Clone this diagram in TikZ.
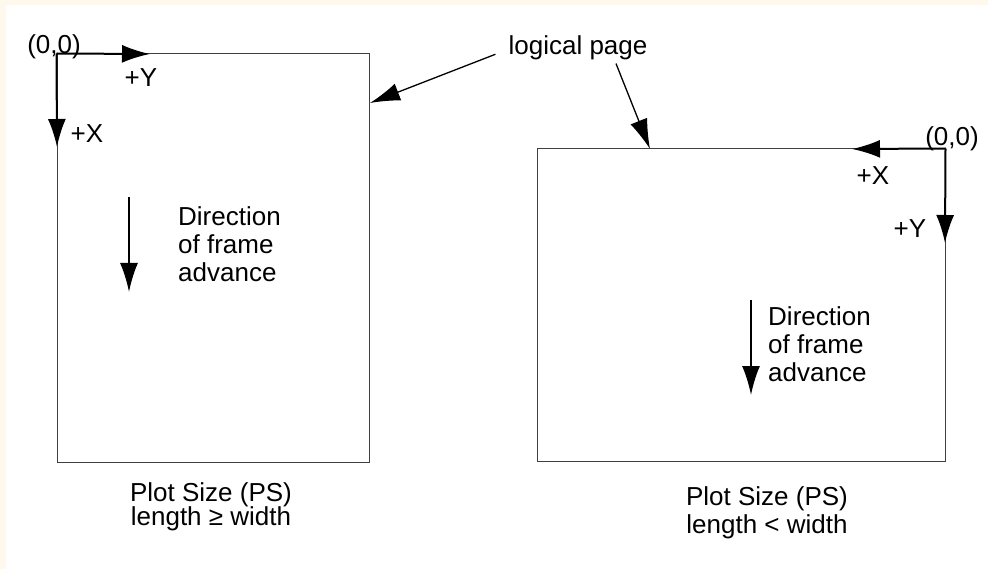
\documentclass[tikz,border=0pt]{standalone}
\usepackage{fontspec}
\setmainfont{Liberation Sans}
\usetikzlibrary{arrows.meta}
\definecolor{paper}{RGB}{255,248,236}
\tikzset{
  pagebox/.style={
    rectangle,
    draw=black!75,
    line width=1pt,
    inner sep=0pt
  },
  txt/.style={font=\fontsize{26}{28}\selectfont, inner sep=0pt},
  axis/.style={-{Latex[length=28pt, width=18pt]}, line width=2pt},
  pointer/.style={-{Latex[length=30pt, width=18pt]}, line width=1.3pt},
  advance/.style={-{Latex[length=29pt, width=18pt]}, line width=2pt}
}

\begin{document}
\begin{tikzpicture}[x=1pt, y=-1pt]
\useasboundingbox (0,0) rectangle (988,569);
\fill[paper] (0,0) rectangle (988,569);
\fill[white] (6,5) rectangle (988,569);

% the two logical pages
\node[pagebox, minimum width=312pt, minimum height=408pt] (pageL) at (213,258) {};
\node[pagebox, minimum width=408pt, minimum height=312pt] (pageR) at (741,305) {};

% axes, length >= width
\coordinate (tipYL) at (150,54);
\coordinate (tipXL) at (57,147);
\draw[axis] (pageL.north west) -- (tipYL);
\draw[axis] (pageL.north west) -- (tipXL);
\node[txt, anchor=base] (originL) at (54,54) {(0,0)};
\node[txt, anchor=base] (plusYL) at (141,87) {+Y};
\node[txt, anchor=base] (plusXL) at (87,143) {+X};

% axes, length < width
\coordinate (tipXR) at (852,149);
\coordinate (tipYR) at (945,243);
\draw[axis] (pageR.north east) -- (tipXR);
\draw[axis] (pageR.north east) -- (tipYR);
\node[txt, anchor=base] (originR) at (952,146) {(0,0)};
\node[txt, anchor=base] (plusXR) at (873,185) {+X};
\node[txt, anchor=base] (plusYR) at (910,238) {+Y};

% logical page pointers
\node[txt, anchor=base] (logical) at (578,55) {logical page};
\coordinate (edgeL) at (370,103);
\coordinate (edgeR) at (650,149);
\draw[pointer] ([shift={(-13,6)}]logical.west) -- (edgeL);
\draw[pointer] ([shift={(38,3)}]logical.south) -- (edgeR);

% direction of frame advance
\node[txt, anchor=north west, align=left] (dirL) at (178,206) {Direction\\of frame\\advance};
\node[txt, anchor=north west, align=left] (dirR) at (768,306) {Direction\\of frame\\advance};
\coordinate (advL) at (129,197);
\coordinate (advLend) at (129,292);
\coordinate (advR) at (751,300);
\coordinate (advRend) at (751,395);
\draw[advance] (advL) -- (advLend);
\draw[advance] (advR) -- (advRend);

% captions
\node[txt, anchor=north, align=center] (capL) at (211,482) {Plot Size (PS)\\[-4pt]length ≥ width};
\node[txt, anchor=north, align=center] (capR) at (767,486) {Plot Size (PS)\\length < width};
\end{tikzpicture}
\end{document}
